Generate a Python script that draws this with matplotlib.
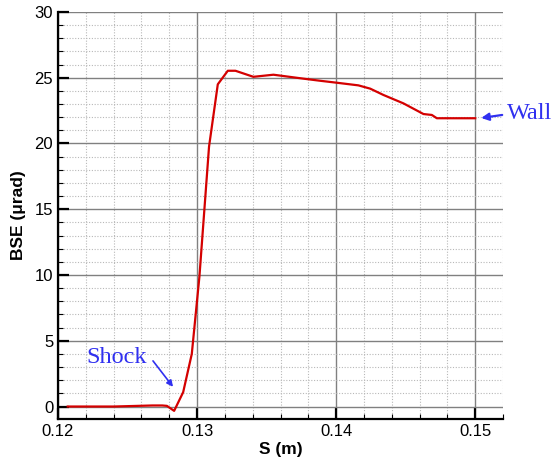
import matplotlib
matplotlib.use("Agg")
import matplotlib.pyplot as plt
from matplotlib.ticker import MultipleLocator

s_vals = [0.1207, 0.1240, 0.1268, 0.1275, 0.12783, 0.12835, 0.1290, 0.12962,
          0.13017, 0.13086, 0.13149, 0.13221, 0.13276, 0.13405, 0.13549,
          0.13765, 0.13885, 0.14005, 0.1416, 0.14245, 0.1434, 0.14484,
          0.14628, 0.14688, 0.14724, 0.1500]
bse_vals = [0.0, 0.0, 0.08, 0.08, 0.05, -0.33, 1.09, 4.0,
            9.9, 19.76, 24.5, 25.53, 25.53, 25.07, 25.23,
            24.93, 24.77, 24.62, 24.42, 24.17, 23.69, 23.05,
            22.24, 22.17, 21.92, 21.92]

x_ticks = [0.12, 0.13, 0.14, 0.15]
x_ticklabels = ["0.12", "0.13", "0.14", "0.15"]
y_ticks = [0, 5, 10, 15, 20, 25, 30]

fig = plt.figure(figsize=(5.54, 4.59), dpi=100)
ax = fig.add_axes([0.1047, 0.0871, 0.908 - 0.1047, 0.9739 - 0.0871])

ax.plot(s_vals, bse_vals, color="#d40000", lw=1.6, zorder=3)

ax.set_xlim(0.12, 0.152)
ax.set_ylim(-0.95, 30)
ax.set_xticks(x_ticks)
ax.set_xticklabels(x_ticklabels)
ax.set_yticks(y_ticks)
ax.xaxis.set_minor_locator(MultipleLocator(0.002))
ax.yaxis.set_minor_locator(MultipleLocator(1))

ax.grid(which="major", color="#808080", lw=1.0, ls="-", zorder=1)
ax.grid(which="minor", color="#b8b8b8", lw=0.8, ls=(0, (1, 1.5)), zorder=1)
ax.set_axisbelow(True)

for sp in ["top", "right"]:
    ax.spines[sp].set_visible(False)
for sp in ["left", "bottom"]:
    ax.spines[sp].set_linewidth(1.6)
    ax.spines[sp].set_color("black")

ax.tick_params(which="major", direction="in", length=8, width=1.6,
               labelsize=12, pad=3.5)
ax.tick_params(which="minor", direction="in", length=3.5, width=0.8)
for lab in ax.get_xticklabels() + ax.get_yticklabels():
    lab.set_family("Liberation Sans")

ax.set_xlabel("S (m)", fontsize=12.5, fontweight="bold", family="Liberation Sans", labelpad=2)
ax.set_ylabel("BSE (\u03bcrad)", fontsize=12.5, fontweight="bold", family="Liberation Sans", labelpad=6)

blue = "#3030f0"
ax.annotate("", xy=(0.15043, 21.94), xytext=(0.15194, 22.17),
            arrowprops=dict(arrowstyle="-|>", color=blue, lw=1.6, mutation_scale=11,
                            shrinkA=0, shrinkB=0), annotation_clip=False)
ax.text(0.1523, 22.3, "Wall", color=blue, fontsize=17.5, family="Liberation Serif",
        va="center", ha="left", clip_on=False)

ax.annotate("", xy=(0.12827, 1.5), xytext=(0.12683, 3.47),
            arrowprops=dict(arrowstyle="-|>", color=blue, lw=1.2, mutation_scale=9,
                            shrinkA=0, shrinkB=0), annotation_clip=False)
ax.text(0.12201, 3.7, "Shock", color=blue, fontsize=17.5, family="Liberation Serif",
        va="center", ha="left")

fig.savefig("out.png", dpi=100)
